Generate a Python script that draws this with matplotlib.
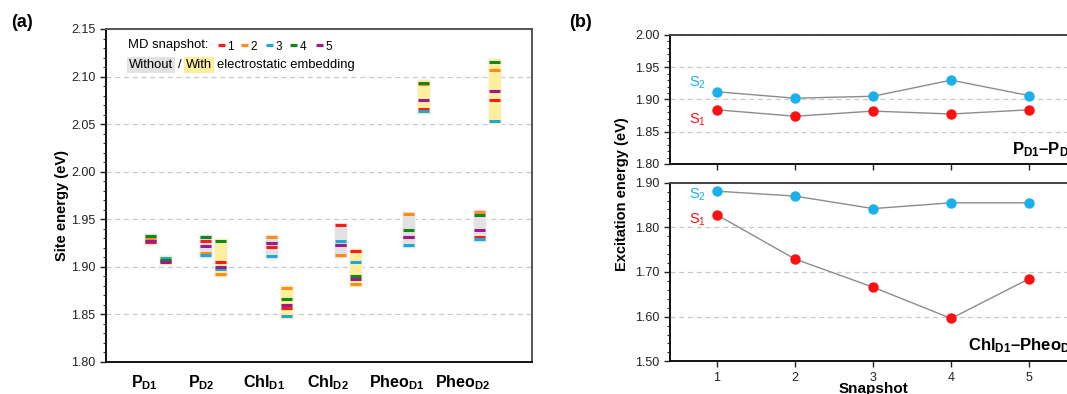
import matplotlib
matplotlib.use("Agg")
import matplotlib.pyplot as plt
from matplotlib.ticker import MultipleLocator, FormatStrFormatter

plt.rcParams['font.family'] = ['Liberation Sans', 'DejaVu Sans']
plt.rcParams['mathtext.fontset'] = 'custom'
plt.rcParams['mathtext.rm'] = 'Liberation Sans'
plt.rcParams['mathtext.bf'] = 'Liberation Sans:bold'
plt.rcParams['mathtext.it'] = 'Liberation Sans:italic'

# (a) site energies in eV, values for MD snapshots 1..5
site_labels = [r"P$_\mathbf{D1}$", r"P$_\mathbf{D2}$", r"Chl$_\mathbf{D1}$",
               r"Chl$_\mathbf{D2}$", r"Pheo$_\mathbf{D1}$", r"Pheo$_\mathbf{D2}$"]

pd1_without = [1.9255, 1.9305, 1.9270, 1.9320, 1.9270]
pd1_with = [1.9055, 1.9068, 1.9088, 1.9067, 1.9050]
pd2_without = [1.9268, 1.9142, 1.9124, 1.9307, 1.9215]
pd2_with = [1.9047, 1.8925, 1.8977, 1.9268, 1.8992]
chld1_without = [1.9202, 1.9307, 1.9110, 1.9244, 1.9244]
chld1_with = [1.8562, 1.8779, 1.8484, 1.8660, 1.8600]
chld2_without = [1.9439, 1.9126, 1.9271, 1.9228, 1.9228]
chld2_with = [1.9165, 1.8821, 1.9050, 1.8899, 1.8874]
pheod1_without = [1.9310, 1.9555, 1.9228, 1.9386, 1.9310]
pheod1_with = [2.0657, 2.0920, 2.0639, 2.0937, 2.0755]
pheod2_without = [1.9313, 1.9579, 1.9295, 1.9544, 1.9386]
pheod2_with = [2.0755, 2.1070, 2.0534, 2.1158, 2.0850]

without_sets = [pd1_without, pd2_without, chld1_without, chld2_without, pheod1_without, pheod2_without]
with_sets = [pd1_with, pd2_with, chld1_with, chld2_with, pheod1_with, pheod2_with]

snap_names = ['1', '2', '3', '4', '5']
snap_colors = ['#ff1a1a', '#ff8c1a', '#1fa8d6', '#12861a', '#9b1a8e']

# (b) excitation energies in eV
snapshots = [1, 2, 3, 4, 5]
pd_s2 = [1.912, 1.902, 1.905, 1.930, 1.906]
pd_s1 = [1.884, 1.874, 1.882, 1.8775, 1.884]
cp_s2 = [1.881, 1.870, 1.842, 1.855, 1.855]
cp_s1 = [1.828, 1.729, 1.666, 1.596, 1.685]

# layout of the groups in panel (a) (not evenly spaced in the original)
group_x = [0, 0.83, 1.83, 2.88, 3.91, 4.98]
label_x = [-0.2, 0.65, 1.61, 2.58, 3.62, 4.62]
bar_w = 0.197
bar_off = 0.114
mark_half = 0.085

GREY = '#e2e2e2'
YELLOW = '#ffee9e'
CYAN = '#1cb0ea'
RED = '#ff1010'
GRID = dict(ls=(0, (4, 3)), color='#c9c9c9', lw=0.9)

fig = plt.figure(figsize=(10.67, 3.94), dpi=100)

ax = fig.add_axes([0.0993, 0.082, 0.3993, 0.8444])


def draw_box(ax, xc, vals, face):
    lo, hi = min(vals) - 0.0032, max(vals) + 0.0032
    ax.bar(xc, hi - lo, bottom=lo, width=bar_w, color=face,
           edgecolor='#f5f5f5', lw=0.8, zorder=2)
    for v, c in zip(vals, snap_colors):
        ax.hlines(v, xc - mark_half, xc + mark_half, color=c, lw=2.2,
                  capstyle='butt', zorder=3)


for gx, wo, wi in zip(group_x, without_sets, with_sets):
    draw_box(ax, gx - bar_off, wo, GREY)
    draw_box(ax, gx + bar_off, wi, YELLOW)

ax.set_xlim(-0.788, 5.667)
ax.set_ylim(1.80, 2.15)
ax.yaxis.set_major_locator(MultipleLocator(0.05))
ax.yaxis.set_minor_locator(MultipleLocator(0.01))
ax.yaxis.set_major_formatter(FormatStrFormatter('%.2f'))
ax.yaxis.grid(True, **GRID)
ax.set_axisbelow(True)
ax.set_xticks(label_x, site_labels, fontsize=11.5, fontweight='bold')
ax.tick_params(axis='x', length=0, pad=8)
ax.tick_params(axis='y', which='major', length=4, width=1, labelsize=9, colors='#222222')
ax.tick_params(axis='y', which='minor', length=2.5, width=0.8, colors='#333333')
ax.set_ylabel('Site energy (eV)', fontsize=10.5, fontweight='bold')
ax.yaxis.set_label_coords(-0.087, 0.47)
for s in ['left', 'bottom']:
    ax.spines[s].set_color('#111111')
    ax.spines[s].set_linewidth(1.4)
for s in ['top', 'right']:
    ax.spines[s].set_color('#555555')
    ax.spines[s].set_linewidth(1.4)

# legend box text
ax.text(0.052, 0.952, 'MD snapshot:', transform=ax.transAxes, fontsize=9.4, va='center')
key_x = [0.271, 0.326, 0.384, 0.441, 0.502]
for kx, c, n in zip(key_x, snap_colors, snap_names):
    ax.plot([kx - 0.008, kx + 0.008], [0.951, 0.951], color=c, lw=2.3,
            solid_capstyle='butt', transform=ax.transAxes, clip_on=False)
    ax.text(kx + 0.013, 0.946, n, transform=ax.transAxes, fontsize=8.5, va='center')
ax.text(0.054, 0.892, 'Without', transform=ax.transAxes, fontsize=9.4, va='center',
        bbox=dict(boxstyle='square,pad=0.15', fc=GREY, ec='none'))
ax.text(0.170, 0.892, '/', transform=ax.transAxes, fontsize=9.4, va='center')
ax.text(0.188, 0.892, 'With', transform=ax.transAxes, fontsize=9.4, va='center',
        bbox=dict(boxstyle='square,pad=0.15', fc=YELLOW, ec='none'))
ax.text(0.260, 0.892, 'electrostatic embedding', transform=ax.transAxes, fontsize=9.4, va='center')

# panel (b)
ax_t = fig.add_axes([0.628, 0.5838, 0.3805, 0.3274])
ax_b = fig.add_axes([0.628, 0.083, 0.3805, 0.4533])

for a, s2, s1 in [(ax_t, pd_s2, pd_s1), (ax_b, cp_s2, cp_s1)]:
    a.plot(snapshots, s2, color='#8c8c8c', lw=1.0, marker='o', ms=6.5,
           mfc=CYAN, mec=CYAN, zorder=3)
    a.plot(snapshots, s1, color='#8c8c8c', lw=1.0, marker='o', ms=6.5,
           mfc=RED, mec=RED, zorder=3)
    a.set_xlim(0.4, 5.6)
    a.set_xticks(snapshots)
    a.yaxis.set_major_formatter(FormatStrFormatter('%.2f'))
    a.yaxis.grid(True, **GRID)
    a.set_axisbelow(True)
    a.tick_params(axis='both', which='major', length=4, width=1, labelsize=9, colors='#222222')
    a.tick_params(axis='y', which='minor', length=2.5, width=0.8, colors='#333333')
    for s in ['left', 'bottom']:
        a.spines[s].set_color('#111111')
        a.spines[s].set_linewidth(1.4)
    for s in ['top', 'right']:
        a.spines[s].set_color('#444444')
        a.spines[s].set_linewidth(1.4)

ax_t.set_ylim(1.80, 2.00)
ax_t.yaxis.set_major_locator(MultipleLocator(0.05))
ax_t.yaxis.set_minor_locator(MultipleLocator(0.01))
ax_t.tick_params(axis='x', labelbottom=False)
ax_t.text(0.75, 1.926, r'S$_\mathrm{2}$', color=CYAN, fontsize=10.5, ha='center', va='center')
ax_t.text(0.75, 1.868, r'S$_\mathrm{1}$', color=RED, fontsize=10.5, ha='center', va='center')
# the reference image crops these two labels at its right edge
ax_t.text(0.842, 0.11, r'P$_\mathbf{D1}$–P$_\mathbf{D2}$', transform=ax_t.transAxes,
          fontsize=12, fontweight='bold', va='center', ha='left')

ax_b.set_ylim(1.50, 1.90)
ax_b.yaxis.set_major_locator(MultipleLocator(0.10))
ax_b.yaxis.set_minor_locator(MultipleLocator(0.02))
ax_b.text(0.75, 1.872, r'S$_\mathrm{2}$', color=CYAN, fontsize=10.5, ha='center', va='center')
ax_b.text(0.75, 1.816, r'S$_\mathrm{1}$', color=RED, fontsize=10.5, ha='center', va='center')
ax_b.text(0.734, 0.087, r'Chl$_\mathbf{D1}$–Pheo$_\mathbf{D1}$', transform=ax_b.transAxes,
          fontsize=12, fontweight='bold', va='center', ha='left')

fig.text(622 / 1067, 0.507, 'Excitation energy (eV)', rotation=90, fontsize=10.5,
         fontweight='bold', ha='center', va='center')
fig.text(873 / 1067, 1 - 382 / 394, 'Snapshot', fontsize=11, fontweight='bold',
         ha='center', va='top')

fig.text(0.010, 0.944, '(a)', fontsize=13, fontweight='bold', va='center')
fig.text(0.533, 0.944, '(b)', fontsize=13, fontweight='bold', va='center')

fig.savefig('out.png', dpi=100)
